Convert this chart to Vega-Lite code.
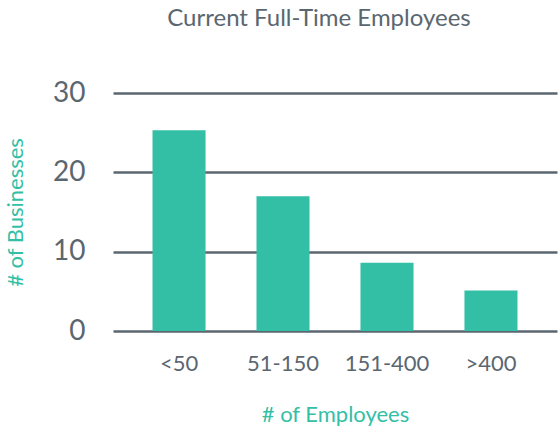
{
  "$schema": "https://vega.github.io/schema/vega-lite/v6.json",
  "autosize": "none",
  "width": 444,
  "height": 238,
  "padding": {"left": 113, "top": 93, "right": 2, "bottom": 99},
  "background": "white",
  "title": {
    "text": "Current Full-Time Employees",
    "anchor": "middle",
    "dx": -16,
    "offset": 48,
    "font": "Lato",
    "fontSize": 24,
    "fontWeight": "normal",
    "color": "#5b6770"
  },
  "data": {
    "values": [
      {"employees": "<50", "businesses": 25.3},
      {"employees": "51-150", "businesses": 17},
      {"employees": "151-400", "businesses": 8.6},
      {"employees": ">400", "businesses": 5.1}
    ]
  },
  "mark": {"type": "bar", "color": "#33bfa6"},
  "encoding": {
    "x": {
      "field": "employees",
      "type": "nominal",
      "sort": null,
      "scale": {"paddingInner": 0.49, "paddingOuter": 0.38},
      "axis": {
        "title": "# of Employees",
        "labelAngle": 0,
        "domain": false,
        "ticks": false,
        "labelPadding": 22,
        "labelFont": "Lato",
        "labelFontSize": 22,
        "labelColor": "#5b6770",
        "titleFont": "Lato",
        "titleFontSize": 22,
        "titleFontWeight": "normal",
        "titleColor": "#33bfa6",
        "titlePadding": 30
      }
    },
    "y": {
      "field": "businesses",
      "type": "quantitative",
      "scale": {"domain": [0, 30]},
      "axis": {
        "title": "# of Businesses",
        "values": [0, 10, 20, 30],
        "domain": false,
        "ticks": false,
        "grid": true,
        "gridColor": "#5b6770",
        "gridWidth": 2.5,
        "gridOpacity": 1,
        "labelPadding": 28,
        "labelFont": "Lato",
        "labelFontSize": 28,
        "labelColor": "#5b6770",
        "titleFont": "Lato",
        "titleFontSize": 22,
        "titleFontWeight": "normal",
        "titleColor": "#33bfa6",
        "titlePadding": 25
      }
    }
  },
  "config": {"view": {"stroke": null}}
}
